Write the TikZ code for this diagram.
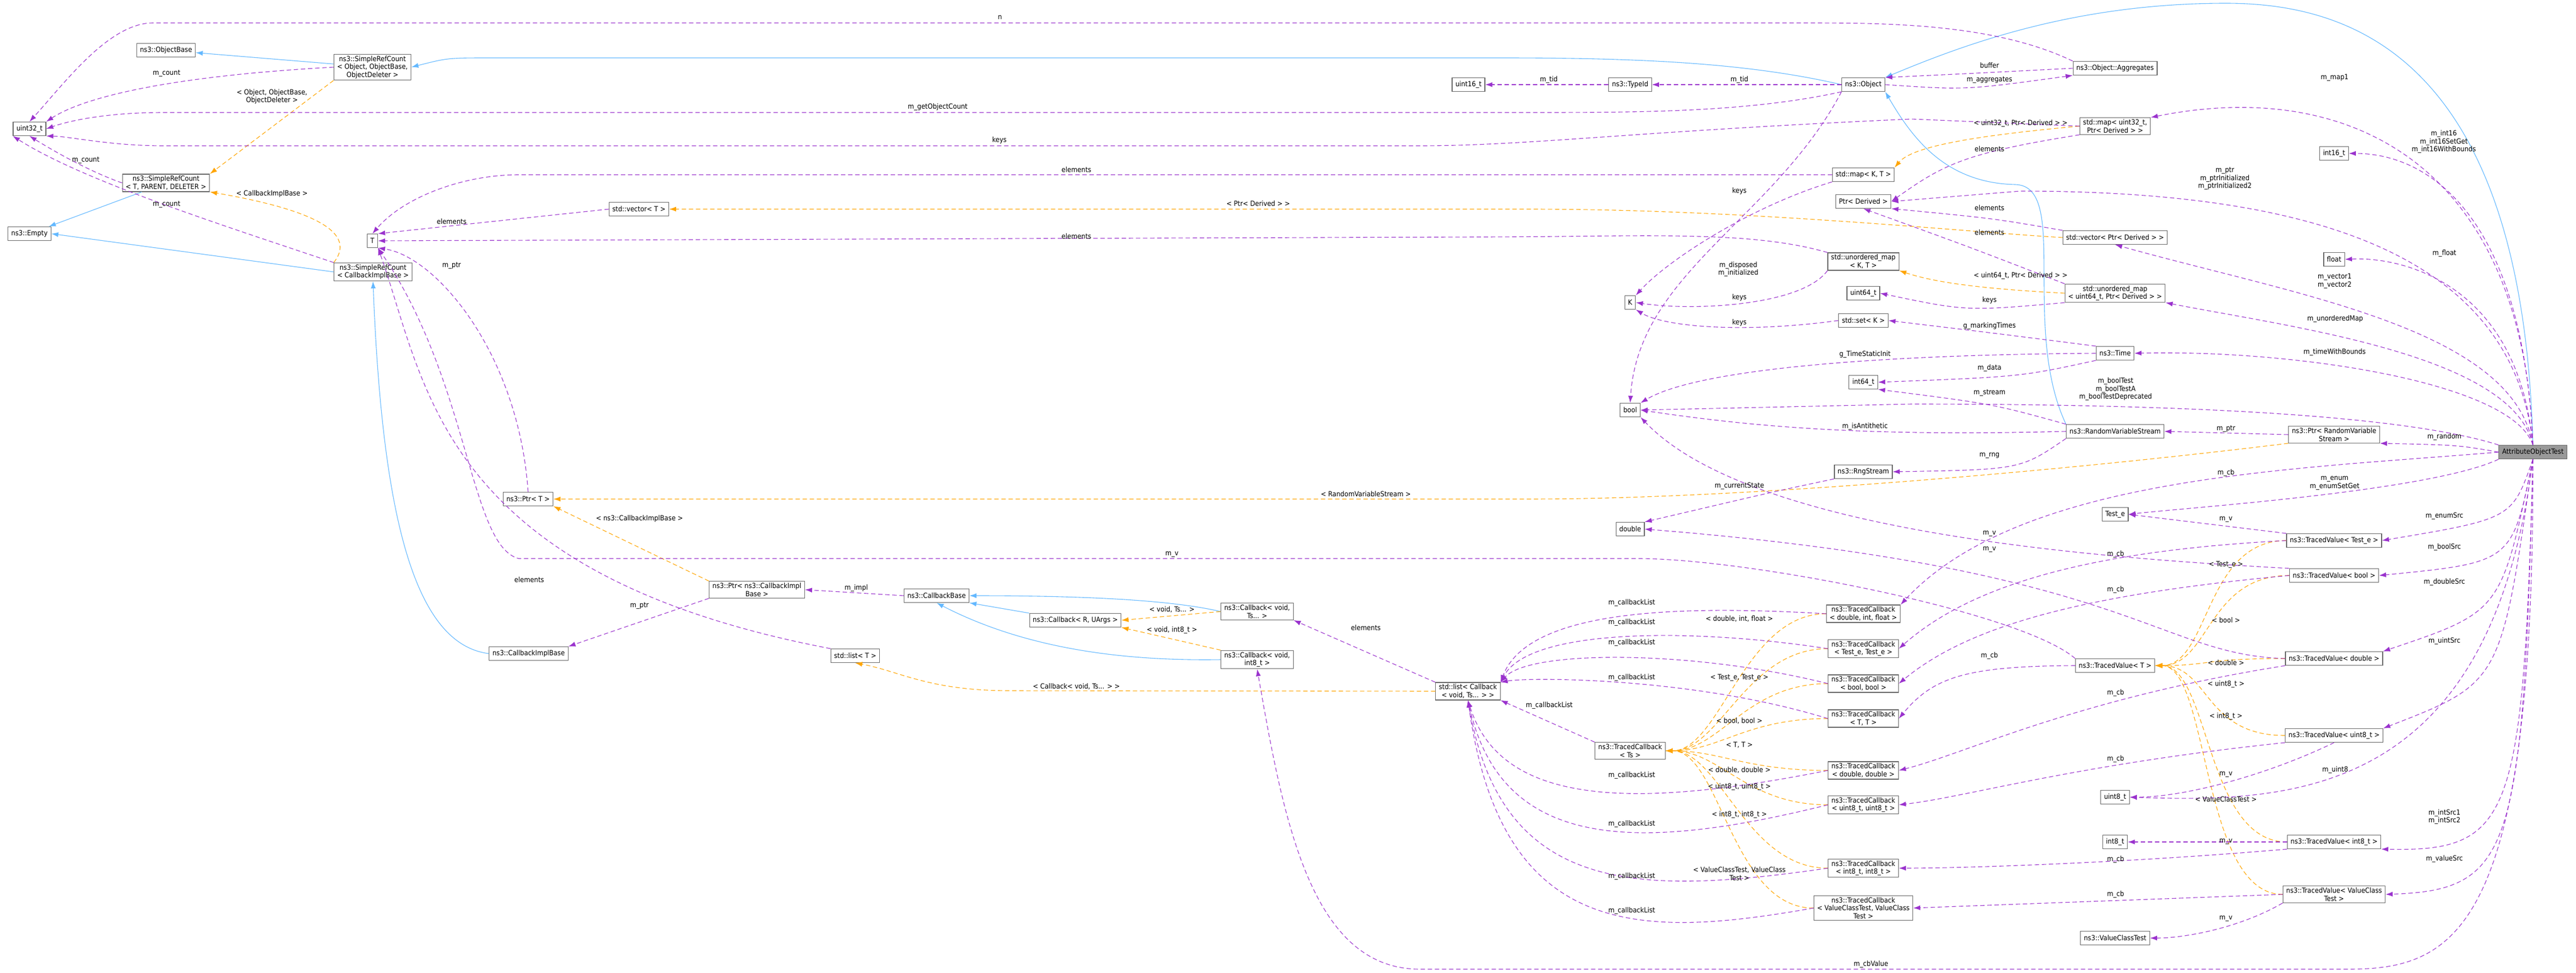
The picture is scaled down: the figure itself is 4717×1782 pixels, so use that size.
\documentclass[tikz,border=0pt]{standalone}
\usepackage{fontspec}
\setmainfont{DejaVu Sans Condensed}
\usetikzlibrary{arrows.meta}
\definecolor{depc}{HTML}{9A32CD}
\definecolor{inhc}{HTML}{63B8FF}
\definecolor{tmplc}{HTML}{FFA500}
\tikzset{
  box/.style={draw=black!60, line width=1.2pt, fill=white, align=center,
    inner xsep=6pt, inner ysep=3pt, minimum height=25pt, font=\fontsize{13}{14.5}\selectfont},
  dep/.style={depc, dashed, dash pattern=on 8pt off 5pt, line width=1.1pt, -{Latex[length=13pt,width=9pt]}},
  inh/.style={inhc, line width=1.1pt, -{Latex[length=13pt,width=9pt]}},
  tmpl/.style={tmplc, dashed, dash pattern=on 8pt off 5pt, line width=1.1pt, -{Latex[length=13pt,width=9pt]}},
  lab/.style={align=center, inner sep=0pt, font=\fontsize{13}{14.5}\selectfont},
}
\begin{document}
\begin{tikzpicture}[x=1pt,y=-1pt]
  \useasboundingbox (0,0) rectangle (4717,1782);
  % left part
  \node[box] (u32) at (54,236) {uint32\_t};
  \node[box] (objbase) at (304,92) {ns3::ObjectBase};
  \node[box] (empty) at (54,428) {ns3::Empty};
  \node[box] (srcobj) at (682,123) {ns3::SimpleRefCount\\< Object, ObjectBase,\\ObjectDeleter >};
  \node[box] (srct) at (304,335) {ns3::SimpleRefCount\\< T, PARENT, DELETER >};
  \node[box] (srccib) at (683,498) {ns3::SimpleRefCount\\< CallbackImplBase >};
  \node[box] (T) at (682,441) {T};
  \node[box] (vect) at (1170,383) {std::vector< T >};
  \node[box] (ptrt) at (967,914) {ns3::Ptr< T >};
  \node[box] (cib) at (968,1197) {ns3::CallbackImplBase};
  \node[box] (ptrcib) at (1386,1080) {ns3::Ptr< ns3::CallbackImpl\\Base >};
  \node[box] (cbbase) at (1715,1091) {ns3::CallbackBase};
  \node[box] (cbr) at (1969,1136) {ns3::Callback< R, UArgs >};
  \node[box] (cbts) at (2302,1120) {ns3::Callback< void,\\Ts... >};
  \node[box] (cbi8) at (2302,1208) {ns3::Callback< void,\\int8\_t >};
  \node[box] (listt) at (1566,1201) {std::list< T >};
  \node[box] (listcb) at (2688,1266) {std::list< Callback\\< void, Ts... > >};
  \node[box] (tcts) at (2985,1375) {ns3::TracedCallback\\< Ts >};
  % middle part
  \node[box] (u16) at (2689,155) {uint16\_t};
  \node[box] (typeid) at (2985,155) {ns3::TypeId};
  \node[box] (obj) at (3412,155) {ns3::Object};
  \node[box] (aggr) at (3873,125) {ns3::Object::Aggregates};
  \node[box] (mapu32) at (3873,231) {std::map< uint32\_t,\\Ptr< Derived > >};
  \node[box] (mapkt) at (3412,320) {std::map< K, T >};
  \node[box] (ptrd) at (3412,369) {Ptr< Derived >};
  \node[box] (umapkt) at (3412,479) {std::unordered\_map\\< K, T >};
  \node[box] (u64) at (3412,537) {uint64\_t};
  \node[box] (setk) at (3412,587) {std::set< K >};
  \node[box] (K) at (2985,554) {K};
  \node[box] (bool) at (2985,751) {bool};
  \node[box] (i64) at (3412,700) {int64\_t};
  \node[box] (rng) at (3412,864) {ns3::RngStream};
  \node[box] (double) at (2985,969) {double};
  \node[box] (vecptr) at (3873,435) {std::vector< Ptr< Derived > >};
  \node[box] (umapu64) at (3873,537) {std::unordered\_map\\< uint64\_t, Ptr< Derived > >};
  \node[box] (time) at (3873,647) {ns3::Time};
  \node[box] (rvs) at (3873,790) {ns3::RandomVariableStream};
  \node[box] (ptrrvs) at (4274,796) {ns3::Ptr< RandomVariable\\Stream >};
  \node[box, fill=black!40] (aot) at (4638,828) {AttributeObjectTest};
  \node[box] (i16) at (4274,281) {int16\_t};
  \node[box] (float) at (4274,475) {float};
  % traced callbacks
  \node[box] (tc1) at (3412,1124) {ns3::TracedCallback\\< double, int, float >};
  \node[box] (tc2) at (3412,1188) {ns3::TracedCallback\\< Test\_e, Test\_e >};
  \node[box] (tc3) at (3412,1252) {ns3::TracedCallback\\< bool, bool >};
  \node[box] (tc4) at (3412,1316) {ns3::TracedCallback\\< T, T >};
  \node[box] (tc5) at (3412,1411) {ns3::TracedCallback\\< double, double >};
  \node[box] (tc6) at (3412,1474) {ns3::TracedCallback\\< uint8\_t, uint8\_t >};
  \node[box] (tc7) at (3412,1590) {ns3::TracedCallback\\< int8\_t, int8\_t >};
  \node[box] (tc8) at (3412,1663) {ns3::TracedCallback\\< ValueClassTest, ValueClass\\Test >};
  % traced values
  \node[box] (teste) at (3873,942) {Test\_e};
  \node[box] (tve) at (4274,990) {ns3::TracedValue< Test\_e >};
  \node[box] (tvb) at (4274,1054) {ns3::TracedValue< bool >};
  \node[box] (tvt) at (3873,1219) {ns3::TracedValue< T >};
  \node[box] (tvd) at (4274,1206) {ns3::TracedValue< double >};
  \node[box] (tvu8) at (4274,1347) {ns3::TracedValue< uint8\_t >};
  \node[box] (u8) at (3873,1460) {uint8\_t};
  \node[box] (i8) at (3873,1542) {int8\_t};
  \node[box] (tvi8) at (4274,1542) {ns3::TracedValue< int8\_t >};
  \node[box] (tvv) at (4274,1638) {ns3::TracedValue< ValueClass\\Test >};
  \node[box] (vct) at (3873,1718) {ns3::ValueClassTest};

  % inheritance
  \draw[inh] (srcobj) -- (objbase);
  \draw[inh] (obj.west) .. controls (3200,115) and (3000,106) .. (2750,106) -- (900,106) .. controls (820,106) .. (srcobj.east);
  \draw[inh] (srct) -- (empty);
  \draw[inh] (srccib.west) -- (empty.east);
  \draw[inh] (cib.west) .. controls (760,1180) and (700,950) .. (srccib.south);
  \draw[inh] (aot.north) .. controls (4620,100) and (4300,6) .. (4076,6) .. controls (3800,6) and (3600,80) .. (obj.north east);
  \draw[inh] (rvs.north west) .. controls (3700,600) and (3790,340) .. (3690,338) .. controls (3560,335) and (3500,250) .. (obj.south east);
  \draw[inh] (cbts.west) .. controls (2150,1100) and (2000,1091) .. (cbbase.east);
  \draw[inh] (cbr.north west) -- (cbbase.south east);
  \draw[inh] (cbi8.west) .. controls (2100,1210) and (1900,1200) .. (cbbase.south);

  % templates
  \draw[tmpl] (srcobj.south west) -- (srct.north east);
  \draw[tmpl] (srccib.north west) .. controls (660,420) and (550,380) .. (srct.south east);
  \draw[tmpl] (vecptr.west) .. controls (3600,425) and (3200,383) .. (2800,383) -- (vect.east);
  \draw[tmpl] (mapu32.west) .. controls (3600,250) and (3500,270) .. (mapkt.north east);
  \draw[tmpl] (umapu64.west) .. controls (3650,530) and (3550,520) .. (umapkt.south east);
  \draw[tmpl] (ptrrvs.south west) .. controls (3800,860) and (3200,914) .. (2800,914) -- (ptrt.east);
  \draw[tmpl] (ptrcib.north west) -- (ptrt.south east);
  \draw[tmpl] (cbts.west) -- (cbr.east);
  \draw[tmpl] (cbi8.north west) -- (cbr.south east);
  \draw[tmpl] (listcb.west) -- (1850,1265) .. controls (1700,1265) and (1650,1230) .. (listt.south);
  \foreach \n in {tc1,tc2,tc3,tc4,tc5,tc6,tc7,tc8}
    \draw[tmpl] (\n.west) .. controls +(-150,0) and +(100,0) .. (tcts.east);
  \foreach \n in {tve,tvb,tvd,tvu8,tvi8,tvv}
    \draw[tmpl] (\n.west) .. controls +(-150,0) and +(100,0) .. (tvt.east);

  % members
  \draw[dep] (aggr.north west) .. controls (3650,42) and (3450,42) .. (3300,42) -- (280,42) .. controls (200,42) and (120,150) .. (u32.north);
  \draw[dep] (srcobj.west) .. controls (300,140) and (150,180) .. (u32.north east);
  \draw[dep] (obj.south west) .. controls (3200,206) and (3000,206) .. (2800,206) -- (300,206) .. controls (200,206) and (130,220) .. (u32.east);
  \draw[dep] (mapu32.west) -- (3500,218) .. controls (3000,240) and (2800,267) .. (2600,267) -- (300,267) .. controls (200,267) and (130,250) .. (u32.south east);
  \draw[dep] (mapkt.west) -- (950,320) .. controls (850,320) and (740,360) .. (T.north);
  \draw[dep] (umapkt.north west) .. controls (3200,420) and (3000,434) .. (2700,434) -- (T.east);
  \draw[dep] (vect.west) -- (T.north east);
  \draw[dep] (srct.west) .. controls (180,320) and (120,290) .. (u32.south);
  \draw[dep] (srccib.north west) .. controls (400,410) and (150,330) .. (u32.south west);
  \draw[dep] (ptrt.north) .. controls (950,650) and (800,470) .. (T.south east);
  \draw[dep] (listt.north west) .. controls (800,1050) and (780,700) .. (T.south east);
  \draw[dep] (tvt.north west) .. controls (3700,1120) and (3200,1023) .. (3000,1023) -- (950,1023) .. controls (860,1000) and (860,700) .. (T.south east);
  \draw[dep] (ptrcib.south west) -- (cib.north east);
  \draw[dep] (cbbase.west) -- (ptrcib.east);
  \draw[dep] (obj.east) .. controls (3600,165) .. (aggr.south west);
  \draw[dep] (aggr.west) .. controls (3600,135) .. (obj.north east);
  \draw[dep] (obj) -- (typeid);
  \draw[dep] (typeid) -- (u16);
  \draw[dep] (obj.south west) .. controls (3250,400) and (3000,500) .. (bool.north);
  \draw[dep] (mapkt.south west) .. controls (3200,380) and (3050,480) .. (K.north east);
  \draw[dep] (umapkt.south west) .. controls (3300,560) and (3100,570) .. (K.east);
  \draw[dep] (setk.west) .. controls (3200,610) and (3050,600) .. (K.south east);
  \draw[dep] (mapu32.south west) .. controls (3600,280) and (3560,300) .. (ptrd.east);
  \draw[dep] (vecptr.north west) .. controls (3650,400) .. (ptrd.south east);
  \draw[dep] (umapu64.north west) .. controls (3600,450) .. (ptrd.south);
  \draw[dep] (umapu64.south west) .. controls (3600,570) .. (u64.east);
  \draw[dep] (time.north west) .. controls (3650,610) .. (setk.east);
  \draw[dep] (time.west) .. controls (3400,650) and (3100,680) .. (bool.north east);
  \draw[dep] (time.south west) .. controls (3700,690) .. (i64.east);
  \draw[dep] (rvs.north west) .. controls (3650,740) .. (i64.south east);
  \draw[dep] (rvs.west) .. controls (3400,800) and (3200,780) .. (bool.east);
  \draw[dep] (rvs.south west) .. controls (3700,860) .. (rng.east);
  \draw[dep] (rng.south west) .. controls (3250,900) .. (double.north east);
  \draw[dep] (ptrrvs.west) -- (rvs.east);
  \draw[dep] (aot.north) .. controls (4620,300) and (4300,142) .. (mapu32.north east);
  \draw[dep] (aot.north) .. controls (4620,400) and (4450,281) .. (i16.east);
  \draw[dep] (aot.north) .. controls (4600,450) and (4200,350) .. (3700,350) -- (ptrd.east);
  \draw[dep] (aot.north) .. controls (4610,520) and (4400,470) .. (float.east);
  \draw[dep] (aot.north) .. controls (4600,600) and (4200,540) .. (vecptr.south);
  \draw[dep] (aot.north) .. controls (4600,650) and (4200,600) .. (umapu64.south east);
  \draw[dep] (aot.north) .. controls (4600,700) and (4200,640) .. (time.east);
  \draw[dep] (aot.north west) .. controls (4400,760) and (4000,740) .. (3500,740) -- (bool.east);
  \draw[dep] (aot.west) .. controls (4500,815) .. (ptrrvs.south east);
  \draw[dep] (aot.west) .. controls (4200,860) and (3700,870) .. (tc1.north east);
  \draw[dep] (aot.south west) .. controls (4450,900) and (4000,930) .. (teste.east);
  \draw[dep] (aot.south) .. controls (4600,950) .. (tve.east);
  \draw[dep] (aot.south) .. controls (4600,1030) .. (tvb.east);
  \draw[dep] (aot.south) .. controls (4580,1120) .. (tvd.north east);
  \draw[dep] (aot.south) .. controls (4580,1250) .. (tvu8.north east);
  \draw[dep] (aot.south) .. controls (4560,1460) and (4200,1470) .. (u8.east);
  \draw[dep] (aot.south) .. controls (4620,1500) and (4600,1560) .. (tvi8.south east);
  \draw[dep] (aot.south) .. controls (4620,1560) and (4600,1630) .. (tvv.east);
  \draw[dep] (aot.south) .. controls (4640,1700) and (4500,1775) .. (4300,1775) -- (2600,1775) .. controls (2400,1775) and (2350,1500) .. (cbi8.south);
  \draw[dep] (tve.north west) -- (teste.east);
  \draw[dep] (tve.west) .. controls (3800,1010) and (3600,1080) .. (tc2.east);
  \draw[dep] (tvb.north west) .. controls (3800,1020) and (3200,970) .. (bool.south east);
  \draw[dep] (tvb.west) .. controls (3800,1090) and (3600,1150) .. (tc3.east);
  \draw[dep] (tvd.west) .. controls (3950,1200) and (3900,1040) .. (double.east);
  \draw[dep] (tvd.south west) .. controls (3800,1280) and (3600,1380) .. (tc5.east);
  \draw[dep] (tvt.west) .. controls (3600,1220) and (3540,1240) .. (tc4.east);
  \draw[dep] (tvu8.south) .. controls (4150,1420) and (4000,1460) .. (u8.east);
  \draw[dep] (tvu8.south west) .. controls (3800,1400) and (3600,1460) .. (tc6.east);
  \draw[dep] (tvi8.west) -- (i8.east);
  \draw[dep] (tvi8.south west) .. controls (3900,1580) and (3600,1590) .. (tc7.east);
  \draw[dep] (tvv.west) -- (tc8.east);
  \draw[dep] (tvv.south west) .. controls (4100,1700) and (4000,1718) .. (vct.east);
  \foreach \n/\c in {tc1/1110,tc2/1150,tc3/1190,tc4/1240}
    \draw[dep] (\n.west) .. controls (3100,\c) and (2800,\c) .. (listcb.north east);
  \draw[dep] (tcts.north west) -- (listcb.south east);
  \foreach \n/\c in {tc5/1480,tc6/1560,tc7/1640,tc8/1720}
    \draw[dep] (\n.west) .. controls (3000,\c) and (2750,\c) .. (listcb.south);
  \draw[dep] (listcb.north west) -- (cbts.south east);

  % labels
  \node[lab] at (1831,32) {n};
  \node[lab] at (305,134) {m\_count};
  \node[lab] at (1717,196) {m\_getObjectCount};
  \node[lab] at (1830,257) {keys};
  \node[lab] at (1971,311) {elements};
  \node[lab] at (1971,433) {elements};
  \node[lab] at (827,406) {elements};
  \node[lab] at (157,293) {m\_count};
  \node[lab] at (305,374) {m\_count};
  \node[lab] at (498,177) {< Object, ObjectBase,\\ObjectDeleter >};
  \node[lab] at (498,355) {< CallbackImplBase >};
  \node[lab] at (827,486) {m\_ptr};
  \node[lab] at (2304,373) {< Ptr< Derived > >};
  \node[lab] at (969,1062) {elements};
  \node[lab] at (1171,950) {< ns3::CallbackImplBase >};
  \node[lab] at (1171,1109) {m\_ptr};
  \node[lab] at (1568,1077) {m\_impl};
  \node[lab] at (2146,1116) {< void, Ts... >};
  \node[lab] at (2146,1154) {< void, int8\_t >};
  \node[lab] at (1971,1257) {< Callback< void, Ts... > >};
  \node[lab] at (2146,1015) {m\_v};
  \node[lab] at (2501,905) {< RandomVariableStream >};
  \node[lab] at (2501,1150) {elements};
  \node[lab] at (2836,146) {m\_tid};
  \node[lab] at (3185,146) {m\_tid};
  \node[lab] at (3643,120) {buffer};
  \node[lab] at (3643,146) {m\_aggregates};
  \node[lab] at (3700,226) {< uint32\_t, Ptr< Derived > >};
  \node[lab] at (3643,273) {elements};
  \node[lab] at (3185,350) {keys};
  \node[lab] at (3643,381) {elements};
  \node[lab] at (3643,426) {elements};
  \node[lab] at (3183,493) {m\_disposed\\m\_initialized};
  \node[lab] at (3700,505) {< uint64\_t, Ptr< Derived > >};
  \node[lab] at (3185,545) {keys};
  \node[lab] at (3643,550) {keys};
  \node[lab] at (3185,591) {keys};
  \node[lab] at (3643,597) {g\_markingTimes};
  \node[lab] at (3415,649) {g\_TimeStaticInit};
  \node[lab] at (3643,674) {m\_data};
  \node[lab] at (3643,719) {m\_stream};
  \node[lab] at (3415,781) {m\_isAntithetic};
  \node[lab] at (3643,834) {m\_rng};
  \node[lab] at (3185,890) {m\_currentState};
  \node[lab] at (4275,142) {m\_map1};
  \node[lab] at (4475,260) {m\_int16\\m\_int16SetGet\\m\_int16WithBounds};
  \node[lab] at (4074,327) {m\_ptr\\m\_ptrInitialized\\m\_ptrInitialized2};
  \node[lab] at (4476,464) {m\_float};
  \node[lab] at (4275,515) {m\_vector1\\m\_vector2};
  \node[lab] at (4276,584) {m\_unorderedMap};
  \node[lab] at (4275,645) {m\_timeWithBounds};
  \node[lab] at (3874,713) {m\_boolTest\\m\_boolTestA\\m\_boolTestDeprecated};
  \node[lab] at (4076,785) {m\_ptr};
  \node[lab] at (4476,800) {m\_random};
  \node[lab] at (4076,866) {m\_cb};
  \node[lab] at (4275,885) {m\_enum\\m\_enumSetGet};
  \node[lab] at (4076,951) {m\_v};
  \node[lab] at (4476,945) {m\_enumSrc};
  \node[lab] at (3643,977) {m\_v};
  \node[lab] at (3643,1006) {m\_v};
  \node[lab] at (3874,1015) {m\_cb};
  \node[lab] at (4076,1034) {< Test\_e >};
  \node[lab] at (4476,1002) {m\_boolSrc};
  \node[lab] at (3874,1080) {m\_cb};
  \node[lab] at (4476,1066) {m\_doubleSrc};
  \node[lab] at (4076,1136) {< bool >};
  \node[lab] at (3643,1201) {m\_cb};
  \node[lab] at (4476,1174) {m\_uintSrc};
  \node[lab] at (4076,1214) {< double >};
  \node[lab] at (4076,1253) {< uint8\_t >};
  \node[lab] at (3874,1269) {m\_cb};
  \node[lab] at (4076,1312) {< int8\_t >};
  \node[lab] at (3874,1390) {m\_cb};
  \node[lab] at (4076,1418) {m\_v};
  \node[lab] at (4276,1410) {m\_uint8};
  \node[lab] at (4076,1464) {< ValueClassTest >};
  \node[lab] at (4476,1496) {m\_intSrc1\\m\_intSrc2};
  \node[lab] at (4076,1541) {m\_v};
  \node[lab] at (3874,1574) {m\_cb};
  \node[lab] at (4476,1573) {m\_valueSrc};
  \node[lab] at (3874,1638) {m\_cb};
  \node[lab] at (4076,1682) {m\_v};
  \node[lab] at (3426,1766) {m\_cbValue};
  \foreach \y in {1104,1140,1177,1241,1420,1509,1605,1668}
    \node[lab] at (2988,\y) {m\_callbackList};
  \node[lab] at (2837,1292) {m\_callbackList};
  \node[lab] at (3185,1133) {< double, int, float >};
  \node[lab] at (3185,1241) {< Test\_e, Test\_e >};
  \node[lab] at (3185,1320) {< bool, bool >};
  \node[lab] at (3185,1365) {< T, T >};
  \node[lab] at (3185,1410) {< double, double >};
  \node[lab] at (3185,1441) {< uint8\_t, uint8\_t >};
  \node[lab] at (3185,1492) {< int8\_t, int8\_t >};
  \node[lab] at (3185,1600) {< ValueClassTest, ValueClass\\Test >};
\end{tikzpicture}
\end{document}
